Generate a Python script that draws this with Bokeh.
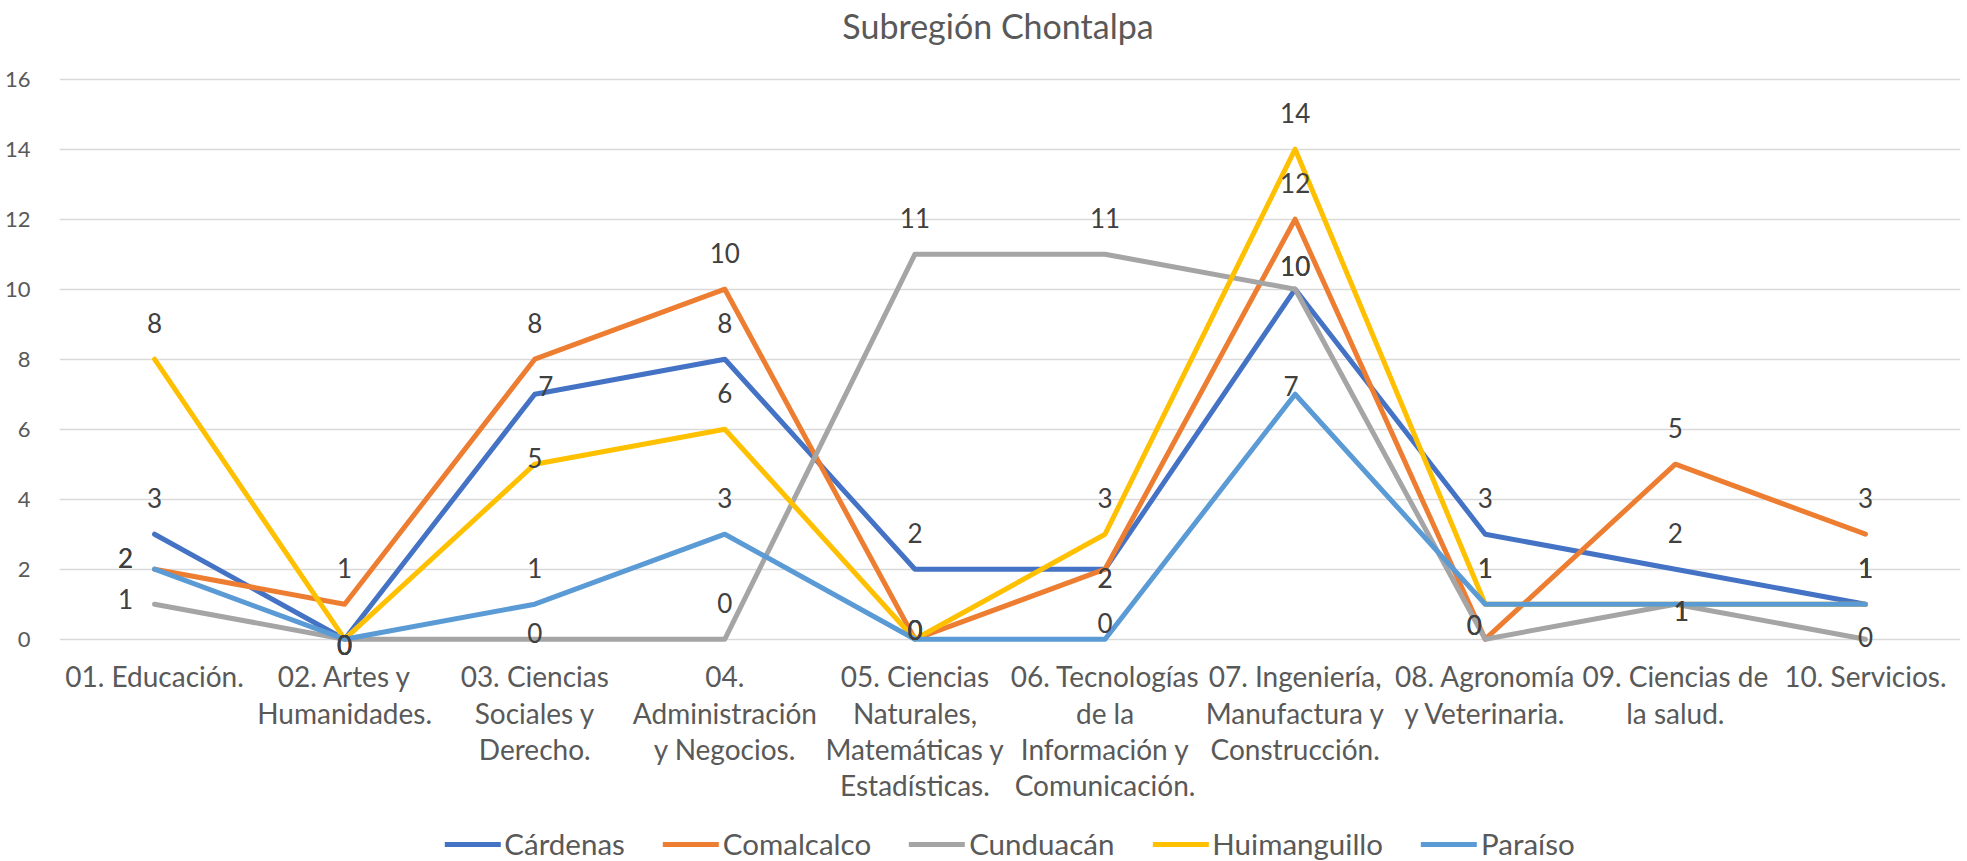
from bokeh.plotting import figure
from bokeh.models import Range1d, FactorRange, Legend, LegendItem, ColumnDataSource, FixedTicker
from bokeh.core.properties import value
from bokeh.embed import file_html
from bokeh.resources import INLINE

# ---------------- data ----------------
categories = [
    "01. Educación.",
    "02. Artes y Humanidades.",
    "03. Ciencias Sociales y Derecho.",
    "04. Administración y Negocios.",
    "05. Ciencias Naturales, Matemáticas y Estadísticas.",
    "06. Tecnologías de la Información y Comunicación.",
    "07. Ingeniería, Manufactura y Construcción.",
    "08. Agronomía y Veterinaria.",
    "09. Ciencias de la salud.",
    "10. Servicios.",
]
category_labels = [
    "01. Educación.",
    "02. Artes y\nHumanidades.",
    "03. Ciencias\nSociales y\nDerecho.",
    "04.\nAdministración\ny Negocios.",
    "05. Ciencias\nNaturales,\nMatemáticas y\nEstadísticas.",
    "06. Tecnologías\nde la\nInformación y\nComunicación.",
    "07. Ingeniería,\nManufactura y\nConstrucción.",
    "08. Agronomía\ny Veterinaria.",
    "09. Ciencias de\nla salud.",
    "10. Servicios.",
]
series_names = ["Cárdenas", "Comalcalco", "Cunduacán", "Huimanguillo", "Paraíso"]
cardenas = [3, 0, 7, 8, 2, 2, 10, 3, 2, 1]
comalcalco = [2, 1, 8, 10, 0, 2, 12, 0, 5, 3]
cunduacan = [1, 0, 0, 0, 11, 11, 10, 0, 1, 0]
huimanguillo = [8, 0, 5, 6, 0, 3, 14, 1, 1, 1]
paraiso = [2, 0, 1, 3, 0, 0, 7, 1, 1, 1]
y_ticks = [0, 2, 4, 6, 8, 10, 12, 14, 16]
title_text = "Subregión Chontalpa"

series_values = [cardenas, comalcalco, cunduacan, huimanguillo, paraiso]

# ---------------- style / layout ----------------
colors = ["#4472C4", "#ED7D31", "#A5A5A5", "#FFC000", "#5B9BD5"]
FONT = "Lato"
TXT = "#595959"
LBL = "#404040"

W, H = 1962, 861
BORDER_LEFT, BORDER_RIGHT = 59, 2
PLOT_TOP_PX = 78.7            # pixel row of the top gridline
PX_PER_UNIT = 35.0            # vertical scale of the value axis
TITLE_Y_PX = 25               # title centre row
TITLE_DX_PX = -12             # title shift from frame centre
y_max = max(y_ticks)
y_top = y_max + PLOT_TOP_PX / PX_PER_UNIT
y_bottom = y_max - (H - PLOT_TOP_PX) / PX_PER_UNIT

# data label placement (screen px offsets, default: above the point)
DEFAULT_OFF = (0, -36)
label_off = {
    (1, 0): (-29, -11), (4, 0): (-29, -11), (2, 0): (-29, -5),
    (0, 1): (0, 6), (2, 1): (0, 6), (3, 1): (0, 6), (4, 1): (0, 6),
    (0, 2): (11, -8), (2, 2): (0, -6), (3, 2): (0, -6),
    (1, 4): (0, -9), (3, 4): (0, -9), (4, 4): (0, -9),
    (0, 5): (0, 9), (1, 5): (0, 9), (4, 5): (0, -16),
    (0, 6): (0, -23), (2, 6): (0, -23), (4, 6): (-4, -8),
    (1, 7): (-11, -14), (2, 7): (-11, -14),
    (2, 8): (6, 7), (3, 8): (6, 7), (4, 8): (6, 7),
    (2, 9): (0, -2),
}

p = figure(
    x_range=FactorRange(*categories, range_padding=0),
    y_range=Range1d(y_bottom, y_top),
    width=W, height=H,
    output_backend="svg", toolbar_location=None,
    min_border_left=BORDER_LEFT, min_border_right=BORDER_RIGHT,
    min_border_top=0, min_border_bottom=0,
    background_fill_color="white", border_fill_color="white",
    outline_line_color=None,
)

# axes
p.xaxis.visible = False
p.yaxis.ticker = FixedTicker(ticks=y_ticks)
p.yaxis.axis_line_color = None
p.yaxis.major_tick_line_color = None
p.yaxis.minor_tick_line_color = None
p.yaxis.major_label_text_font = FONT
p.yaxis.major_label_text_font_size = "22px"
p.yaxis.major_label_text_color = TXT
p.yaxis.major_label_standoff = 23

p.xgrid.grid_line_color = None
p.ygrid.ticker = FixedTicker(ticks=y_ticks)
p.ygrid.grid_line_color = "#d9d9d9"
p.ygrid.grid_line_width = 1.5

# series lines
renderers = []
for name, vals, col in zip(series_names, series_values, colors):
    r = p.line(x=categories, y=vals, line_color=col, line_width=5,
               line_join="round", line_cap="round")
    renderers.append(r)

# data labels
lx, ly, lt, ldx, ldy = [], [], [], [], []
for si, vals in enumerate(series_values):
    for ci, v in enumerate(vals):
        dx, dy = label_off.get((si, ci), DEFAULT_OFF)
        lx.append(categories[ci]); ly.append(v); lt.append(str(v))
        ldx.append(dx); ldy.append(dy)
src = ColumnDataSource(dict(x=lx, y=ly, text=lt, dx=ldx, dy=ldy))
p.text(x="x", y="y", text="text", source=src, x_offset="dx", y_offset="dy",
       text_align="center", text_baseline="middle",
       text_font=value(FONT), text_font_size="26px", text_color=LBL)

# category labels (below the zero line)
csrc = ColumnDataSource(dict(x=categories, y=[min(y_ticks)] * len(categories), text=category_labels))
p.text(x="x", y="y", text="text", source=csrc, y_offset=20,
       text_align="center", text_baseline="top", text_line_height=1.07,
       text_font=value(FONT), text_font_size="28px", text_color=TXT)

# title (centred over the chart, above the top gridline)
p.text(x=[len(categories) / 2], y=[y_max], text=[title_text],
       x_offset=TITLE_DX_PX, y_offset=-(PLOT_TOP_PX - TITLE_Y_PX),
       text_align="center", text_baseline="middle",
       text_font=value(FONT), text_font_size="34px", text_color=TXT)

legend = Legend(
    items=[LegendItem(label=n, renderers=[r]) for n, r in zip(series_names, renderers)],
    orientation="horizontal", location="bottom_center",
    label_text_font=FONT, label_text_font_size="29.5px", label_text_color=TXT,
    glyph_width=56, glyph_height=30, label_standoff=4, spacing=38,
    border_line_color=None, background_fill_alpha=0, padding=0, margin=0,
)
p.add_layout(legend, "center")

open("out.html", "w").write(file_html(p, INLINE))
